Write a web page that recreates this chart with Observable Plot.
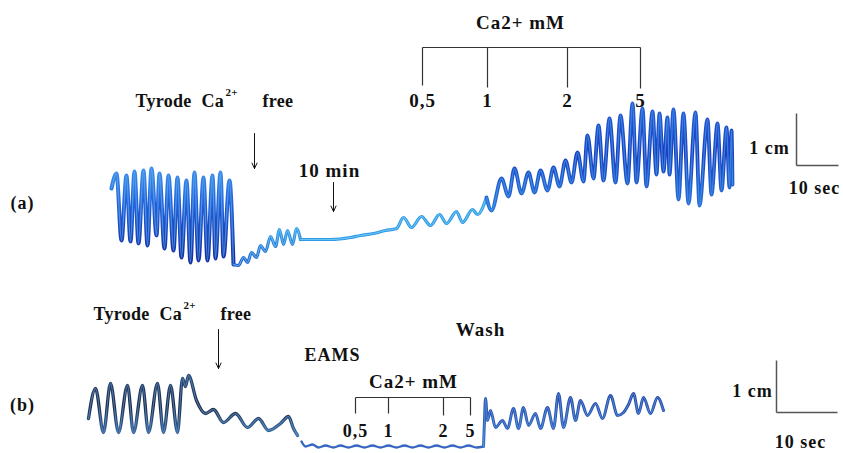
<!DOCTYPE html>
<html><head><meta charset="utf-8">
<script src="https://cdn.jsdelivr.net/npm/d3@7"></script>
<script src="https://cdn.jsdelivr.net/npm/@observablehq/plot@0.6"></script>
<style>
html,body{margin:0;padding:0;background:#fff;}
svg text{letter-spacing:1px;}
svg g.lbl text{letter-spacing:0.3px;}
</style>
</head><body><div id="chart"></div>
<script>
// ---- Trace (a): recorded contractions, [time, deflection] in picture units ----
const traceA_control = [[111,188],[116,173],[121,240],[126,175],[130,241],[134,171],[138,243],[143,170],[147,245],[151,168],[156,235],[159,173],[164,248],[168,175],[173,250],[177,177],[181,257],[186,180],[190,262],[194,172],[198,260],[203,177],[207,260],[212,175],[215,258],[220,172],[223,256],[229,180],[233,264]];
const traceA_free = [[233,264],[238,265],[243,257],[247,262],[251,252],[256,257],[260,245],[265,251],[270,236],[275,246],[279,229],[283,244],[287,230],[292,244],[296,228],[300,239]];
const traceA_rest = [[300,239],[310,239],[330,239],[350,237],[360,235],[373,233],[385,230],[396,228],[403,217],[411,227],[421,216],[430,225],[439,214],[446,223],[456,211],[462,222],[472,209],[477,214],[486,197]];
const traceA_calcium = [[486,197],[491,210],[501,178],[508,196],[514,168],[521,193],[528,172],[534,192],[540,170],[547,190],[553,167],[559,186],[565,160],[571,182],[577,152],[583,181],[587,135],[593,178],[598,125],[603,180],[609,118],[615,182],[620,115],[627,183],[632,103],[636,182],[642,108],[646,186],[652,111],[656,174],[659,113],[663,171],[667,117],[669,174],[673,109],[678,199],[683,113],[688,203],[695,112],[699,205],[707,119],[711,194],[717,123],[721,190],[726,127],[729,187],[731,130],[732,184]];
// ---- Trace (b) ----
const traceB_control = [[88,418],[95,388],[103,432],[110,383],[118,432],[127,385],[133,432],[142,385],[148,432],[157,383],[163,432],[170,385],[177,432],[182,378],[185,386],[188,375],[196,400],[205,413],[213,409],[223,422],[235,413],[247,427],[258,418],[268,430],[280,423],[288,416],[293,428],[297,435]];
const traceB_eams = [[301,441],[305,446],[312,444],[318,447],[325,445],[333,447],[340,445],[348,447],[356,445],[364,447],[372,445],[380,447],[388,445],[396,447],[404,445],[412,447],[420,445],[428,447],[436,445],[444,447],[452,445],[460,447],[468,445],[476,447],[483,446]];
const traceB_wash = [[483,446],[484,420],[485,398],[487,420],[490,410],[495,427],[502,420],[507,428],[513,408],[518,428],[523,407],[528,425],[535,413],[540,428],[547,407],[553,428],[558,393],[563,427],[570,397],[575,420],[580,400],[587,415],[595,403],[602,418],[610,395],[617,415],[623,412],[628,404],[633,393],[638,413],[643,397],[650,413],[657,397],[663,410]];

// ---- Concentration labels ----
const caLevels = ["0,5","1","2","5"];
const caPosA = [422,487,567,640];
const caPosB = [355,388,443,470];

// ---- Annotation layout ----
const textCentered = [
  {t:"Ca2+ mM", x:520, y:22, s:19},
  {t:"10 min", x:329, y:170, s:19},
  {t:"(a)", x:22, y:203, s:18},
  {t:"1 cm", x:769, y:148, s:18},
  {t:"10 sec", x:814, y:188, s:18},
  {t:"Wash", x:480, y:329, s:19},
  {t:"EAMS", x:332, y:355, s:18},
  {t:"Ca2+ mM", x:413, y:381, s:19},
  {t:"(b)", x:22, y:405, s:18},
  {t:"1 cm", x:752, y:391, s:18},
  {t:"10 sec", x:800, y:442, s:18}
];
const textLeft = [
  {t:"Tyrode", x:135, y:101, s:18},
  {t:"Ca", x:201, y:101, s:18},
  {t:"2+", x:225, y:92, s:11},
  {t:"free", x:262, y:101, s:18},
  {t:"Tyrode", x:93, y:314, s:18},
  {t:"Ca", x:159, y:314, s:18},
  {t:"2+", x:183, y:305, s:11},
  {t:"free", x:220, y:314, s:18}
];
const arrows = [{x:254,y1:133,y2:168},{x:333,y1:182,y2:211},{x:218,y1:329,y2:368}];
const scaleBars = [
  {x1:796,y1:113,x2:796,y2:165},{x1:796,y1:165,x2:838,y2:165},
  {x1:776,y1:360,x2:776,y2:412},{x1:776,y1:412,x2:837,y2:412}
];
const brackets = [
  {pos:caPosA, top:47, bottoms:[85,87,87,88], labelY:100, size:19},
  {pos:caPosB, top:397, bottoms:[413,413,415,415], labelY:431, size:18}
];

const X = d => d[0], Y = d => d[1];
function trace(data, base, hi, w) {
  return [
    Plot.line(data, {x:X, y:Y, stroke:base, strokeWidth:w, curve:"monotone-x", strokeLinecap:"round"}),
    Plot.line(data, {x:X, y:Y, stroke:hi, strokeWidth:Math.max(1, w*0.33), curve:"monotone-x", strokeOpacity:0.65})
  ];
}

const bracketLinks = [];
const bracketLabels = [];
brackets.forEach(b => {
  bracketLinks.push({x1:b.pos[0], y1:b.top, x2:b.pos[b.pos.length-1], y2:b.top});
  b.pos.forEach((p,i) => {
    bracketLinks.push({x1:p, y1:b.top, x2:p, y2:b.bottoms[i]});
    bracketLabels.push({t:caLevels[i], x:p, y:b.labelY, s:b.size});
  });
});

const chart = Plot.plot({
  width:843, height:453, margin:0,
  x:{domain:[0,843], range:[0,843], axis:null},
  y:{domain:[0,453], range:[0,453], axis:null},
  style:{background:"#fff", fontFamily:"'Liberation Serif','Times New Roman',serif"},
  marks:[
    ...trace(traceA_control, "url(#gA1)", "#5ab2f4", 4),
    ...trace(traceA_free, "url(#gA2)", "#7fd0f6", 3.2),
    ...trace(traceA_rest, "#2f9ae6", "#8adaf8", 3.2),
    ...trace(traceA_calcium, "url(#gA3)", "#46a6ee", 3.8),
    ...trace(traceB_control, "url(#gB1)", "#6a9ccc", 3.3),
    Plot.line(traceB_eams, {x:X, y:Y, stroke:"#3566c2", strokeWidth:2.4, curve:"monotone-x"}),
    ...trace(traceB_wash, "url(#gB3)", "#6c9ee0", 3),
    Plot.link(bracketLinks, {x1:"x1", y1:"y1", x2:"x2", y2:"y2", stroke:"#333", strokeWidth:1.2}),
    Plot.link(scaleBars, {x1:"x1", y1:"y1", x2:"x2", y2:"y2", stroke:"#555", strokeWidth:1.5}),
    Plot.arrow(arrows, {x1:"x", y1:"y1", x2:"x", y2:"y2", stroke:"#111", strokeWidth:1, headLength:9, headAngle:50}),
    Plot.text(bracketLabels, {x:"x", y:"y", text:"t", fontSize:d=>d.s, fontWeight:"bold", fill:"#111"}),
    Plot.text(textCentered, {x:"x", y:"y", text:"t", fontSize:d=>d.s, fontWeight:"bold", textAnchor:"middle", fill:"#111"}),
    Plot.text(textLeft, {x:"x", y:"y", text:"t", fontSize:d=>d.s, fontWeight:"bold", textAnchor:"start", fill:"#111", className:"lbl"})
  ]
});

// vertical colour gradients imitating the ink of the recorder pen
const grads = [
  {id:"gA1", y1:168, y2:266, stops:[["0%","#3f8fea"],["35%","#2460d8"],["100%","#15289a"]]},
  {id:"gA2", y1:225, y2:266, stops:[["0%","#3aa6ec"],["100%","#1f5cc8"]]},
  {id:"gA3", y1:100, y2:206, stops:[["0%","#2a5fd8"],["50%","#1a3fc0"],["100%","#2a70d8"]]},
  {id:"gB1", y1:375, y2:436, stops:[["0%","#2c4a78"],["50%","#1b2a48"],["100%","#3a6ea8"]]},
  {id:"gB3", y1:392, y2:446, stops:[["0%","#2448a8"],["100%","#3470c8"]]}
];
const defs = d3.select(chart).insert("defs", ":first-child");
grads.forEach(g => {
  const lg = defs.append("linearGradient").attr("id", g.id).attr("gradientUnits","userSpaceOnUse")
    .attr("x1",0).attr("x2",0).attr("y1",g.y1).attr("y2",g.y2);
  g.stops.forEach(s => lg.append("stop").attr("offset", s[0]).attr("stop-color", s[1]));
});
document.getElementById("chart").appendChild(chart);
</script>
</body></html>
